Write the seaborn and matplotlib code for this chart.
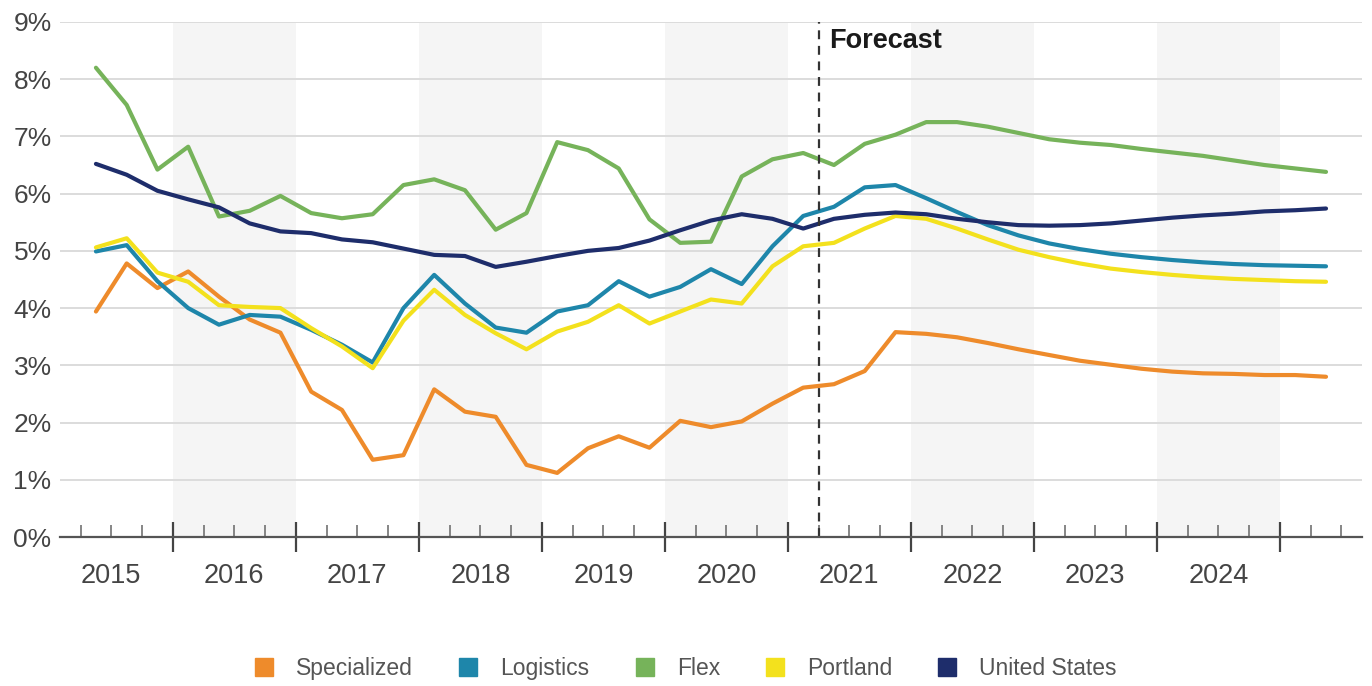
import matplotlib
matplotlib.use("Agg")
import matplotlib.pyplot as plt
from matplotlib.lines import Line2D
from matplotlib.ticker import FixedLocator, FuncFormatter
import seaborn as sns
import pandas as pd

# quarterly vacancy rates (%), first point sits in the 2015 band
specialized = [3.94, 4.78, 4.35, 4.64, 4.20, 3.80, 3.57, 2.54, 2.22, 1.35, 1.43,
               2.58, 2.19, 2.10, 1.26, 1.12, 1.55, 1.76, 1.56, 2.03, 1.92, 2.02,
               2.33, 2.61, 2.67, 2.90, 3.58, 3.55, 3.49, 3.39, 3.28, 3.18, 3.08,
               3.01, 2.94, 2.89, 2.86, 2.85, 2.83, 2.83, 2.80]
logistics = [4.99, 5.10, 4.47, 4.00, 3.71, 3.88, 3.85, 3.62, 3.36, 3.05, 4.00,
             4.58, 4.08, 3.66, 3.57, 3.94, 4.05, 4.47, 4.20, 4.37, 4.68, 4.42,
             5.08, 5.61, 5.77, 6.11, 6.15, 5.92, 5.68, 5.45, 5.27, 5.13, 5.03,
             4.95, 4.89, 4.84, 4.80, 4.77, 4.75, 4.74, 4.73]
flex = [8.20, 7.55, 6.42, 6.82, 5.60, 5.70, 5.96, 5.66, 5.57, 5.64, 6.15,
        6.25, 6.06, 5.37, 5.66, 6.90, 6.76, 6.44, 5.55, 5.14, 5.16, 6.30,
        6.60, 6.71, 6.50, 6.87, 7.03, 7.25, 7.25, 7.17, 7.06, 6.95, 6.89,
        6.85, 6.78, 6.72, 6.66, 6.58, 6.50, 6.44, 6.38]
portland = [5.06, 5.22, 4.62, 4.46, 4.05, 4.02, 4.00, 3.65, 3.33, 2.95, 3.78,
            4.32, 3.88, 3.56, 3.28, 3.59, 3.76, 4.05, 3.73, 3.94, 4.15, 4.08,
            4.73, 5.08, 5.14, 5.39, 5.61, 5.56, 5.39, 5.20, 5.02, 4.89, 4.78,
            4.69, 4.63, 4.58, 4.54, 4.51, 4.49, 4.47, 4.46]
united_states = [6.52, 6.33, 6.05, 5.90, 5.76, 5.48, 5.34, 5.31, 5.20, 5.15, 5.04,
                 4.93, 4.91, 4.72, 4.81, 4.91, 5.00, 5.05, 5.18, 5.36, 5.53, 5.64,
                 5.56, 5.39, 5.56, 5.63, 5.67, 5.64, 5.56, 5.50, 5.45, 5.44, 5.45,
                 5.48, 5.53, 5.58, 5.62, 5.65, 5.69, 5.71, 5.74]

series_names = ["Specialized", "Logistics", "Flex", "Portland", "United States"]
series_colors = ["#EE8B2B", "#1E86AA", "#76B35A", "#F3E11D", "#1E2D6B"]
years = ["2015", "2016", "2017", "2018", "2019", "2020", "2021", "2022", "2023", "2024"]
forecast_label = "Forecast"
forecast_after = 23.5  # between quarter 23 and 24

values = [specialized, logistics, flex, portland, united_states]
rows = []
for name, vals in zip(series_names, values):
    for i, v in enumerate(vals):
        rows.append({"quarter": i, "rate": v, "series": name})
df = pd.DataFrame(rows)

sns.set_theme(style="white")
plt.rcParams["font.family"] = ["Liberation Sans", "DejaVu Sans"]

fig = plt.figure(figsize=(13.72, 6.86), dpi=100)
ax = fig.add_axes([0.0437, 0.2172, 0.949, 0.7508])

# alternating year bands
for k in range(len(years)):
    start = -1.5 + 4 * k
    if k % 2 == 1:
        ax.axvspan(start, start + 4, color="#F5F5F5", zorder=0, lw=0)

for y in range(1, 10):
    ax.axhline(y, color="#DCDCDC", lw=1.4, zorder=1)

sns.lineplot(data=df, x="quarter", y="rate", hue="series", hue_order=series_names,
             palette=dict(zip(series_names, series_colors)), lw=3, ax=ax,
             legend=False, zorder=3)

ax.axvline(forecast_after, ymin=0, ymax=1, color="#333333", lw=1.6,
           ls=(0, (4, 3)), zorder=4)
ax.text(forecast_after + 0.35, 8.9, forecast_label, fontsize=19.5, fontweight="bold",
        color="#1a1a1a", va="top", ha="left")

ax.set_xlim(-1.17, 41.17)
ax.set_ylim(0, 9)
ax.set_yticks(range(0, 10))
ax.yaxis.set_major_formatter(FuncFormatter(lambda v, _: f"{int(v)}%"))
ax.tick_params(axis="y", length=0, labelsize=19, labelcolor="#444444", pad=6)

ax.set_xticks([2.5 + 4 * k for k in range(10)])
ax.set_xticklabels([])
ax.xaxis.set_minor_locator(FixedLocator([i + 0.5 for i in range(-1, 41)]))
ax.tick_params(axis="x", which="both", bottom=True)
ax.tick_params(axis="x", which="major", direction="inout", length=22, width=1.6,
               color="#444444")
ax.tick_params(axis="x", which="minor", direction="in", length=9, width=1.1,
               color="#666666")
for k, label in enumerate(years):
    ax.text(0.5 + 4 * k, -0.05, label, transform=ax.get_xaxis_transform(),
            ha="center", va="top", fontsize=19.5, color="#444444")

ax.set_xlabel("")
ax.set_ylabel("")
for side in ["left", "right", "top"]:
    ax.spines[side].set_visible(False)
ax.spines["bottom"].set_color("#555555")
ax.spines["bottom"].set_linewidth(1.6)
ax.spines["bottom"].set_zorder(5)

handles = [Line2D([], [], ls="", marker="s", markersize=13, color=c) for c in series_colors]
fig.legend(handles, series_names, loc="center", bbox_to_anchor=(0.495, 0.026),
           ncol=5, frameon=False, fontsize=16.5, handletextpad=0.4, columnspacing=1.4,
           labelcolor="#555555")

fig.savefig("out.png", dpi=100)
